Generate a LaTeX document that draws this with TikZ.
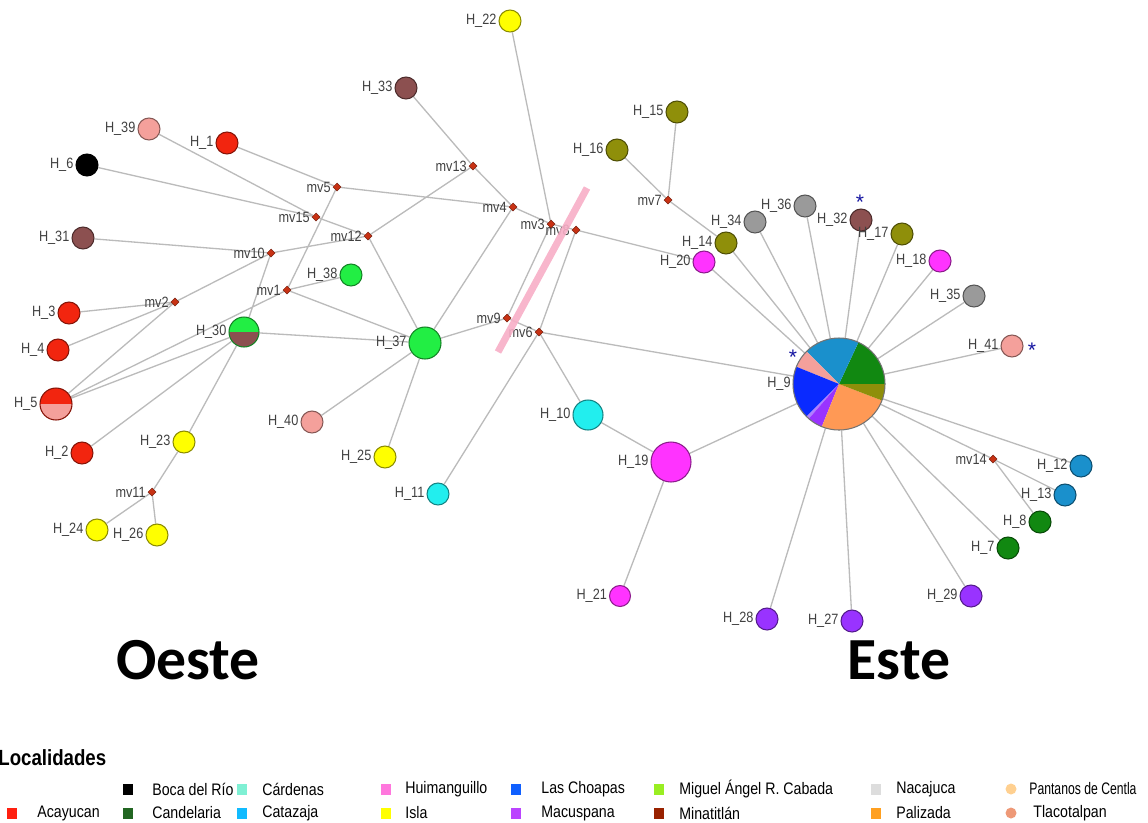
\documentclass[tikz,border=0pt]{standalone}
\usepackage{fontspec}
\setmainfont{Liberation Sans}
\newfontfamily\legfont[FakeStretch=0.85]{Liberation Sans}
\newfontfamily\zonefont{Carlito}
\usetikzlibrary{shapes.geometric,backgrounds}
\definecolor{acay}{HTML}{F2250F}
\definecolor{tlac}{HTML}{F4A09B}
\definecolor{minan}{HTML}{8C5050}
\definecolor{miguel}{HTML}{22EE44}
\definecolor{cande}{HTML}{118811}
\definecolor{carde}{HTML}{22EEEE}
\definecolor{cata}{HTML}{1A90CC}
\definecolor{isla}{HTML}{FFFF00}
\definecolor{huim}{HTML}{FF33FF}
\definecolor{choap}{HTML}{0A2AFF}
\definecolor{macus}{HTML}{9933FF}
\definecolor{lilac}{HTML}{B080FF}
\definecolor{olive}{HTML}{8F8F0A}
\definecolor{nacaj}{HTML}{9A9A9A}
\definecolor{paliz}{HTML}{FF9955}
\definecolor{mvred}{HTML}{C83214}
\definecolor{edgegray}{HTML}{BBBBBB}
\definecolor{astblue}{HTML}{1414A0}
\definecolor{barpink}{HTML}{F7AEC6}
% legend colours
\definecolor{lcarde}{HTML}{7FF0D4}
\definecolor{lhuim}{HTML}{FF77DD}
\definecolor{lchoap}{HTML}{1060FF}
\definecolor{lmiguel}{HTML}{99EE22}
\definecolor{lnacaj}{HTML}{DDDDDD}
\definecolor{lpant}{HTML}{FFD090}
\definecolor{lacay}{HTML}{FF2010}
\definecolor{lcande}{HTML}{226622}
\definecolor{lcata}{HTML}{11BBFF}
\definecolor{lmacus}{HTML}{BB44FF}
\definecolor{lmina}{HTML}{992200}
\definecolor{lpaliz}{HTML}{FFA020}
\definecolor{ltlac}{HTML}{EE9977}
\tikzset{
  hap/.style={circle,draw=#1!55!black,fill=#1,line width=0.6pt,minimum size=0.44cm,inner sep=0pt},
  mv/.style={diamond,draw=mvred!60!black,fill=mvred,line width=0.3pt,minimum size=0.16cm,inner sep=0pt},
  lbl/.style={font=\legfont\fontsize{8.5}{9}\selectfont,text=black!75,inner sep=1pt},
  edge/.style={draw=edgegray,line width=0.75pt},
  ast/.style={font=\fontsize{12}{12}\selectfont,text=astblue,inner sep=0pt},
  zone/.style={font=\zonefont\bfseries\fontsize{34}{34}\selectfont},
  legtext/.style={font=\legfont\fontsize{9.5}{10}\selectfont,anchor=west,inner sep=0pt},
  legbox/.style={fill=#1,minimum width=0.2cm,minimum height=0.22cm,inner sep=0pt},
  legdot/.style={circle,fill=#1,minimum size=0.22cm,inner sep=0pt}
}

\begin{document}
\begin{tikzpicture}[x=0.02cm,y=-0.02cm]
  \useasboundingbox (0,0) rectangle (1148,822);
  % haplotypes, west
  \node[hap=isla,label={[lbl]left:H\_22}] (H22) at (510,21) {};
  \node[hap=minan,label={[lbl]left:H\_33}] (H33) at (406,88) {};
  \node[hap=tlac,label={[lbl]left:H\_39}] (H39) at (149,129) {};
  \node[hap=acay,label={[lbl]left:H\_1}] (H1) at (227,143) {};
  \node[hap=black,label={[lbl]left:H\_6}] (H6) at (87,165) {};
  \node[hap=minan,label={[lbl]left:H\_31}] (H31) at (83,238) {};
  \node[hap=acay,label={[lbl]left:H\_3}] (H3) at (69,313) {};
  \node[hap=acay,label={[lbl]left:H\_4}] (H4) at (58,350) {};
  \node[hap=acay,minimum size=0.64cm,label={[lbl]left:H\_5},
    path picture={\fill[tlac] (path picture bounding box.west) rectangle (path picture bounding box.south east);}] (H5) at (56,404) {};
  \node[hap=acay,label={[lbl]left:H\_2}] (H2) at (82,453) {};
  \node[hap=miguel,minimum size=0.6cm,label={[lbl]left:H\_30},
    path picture={\fill[minan] (path picture bounding box.west) rectangle (path picture bounding box.south east);}] (H30) at (244,332) {};
  \node[hap=miguel,label={[lbl]left:H\_38}] (H38) at (351,275) {};
  \node[hap=miguel,minimum size=0.64cm,label={[lbl]left:H\_37}] (H37) at (425,343) {};
  \node[hap=tlac,label={[lbl]left:H\_40}] (H40) at (312,422) {};
  \node[hap=isla,label={[lbl]left:H\_25}] (H25) at (385,457) {};
  \node[hap=isla,label={[lbl]left:H\_23}] (H23) at (184,442) {};
  \node[hap=isla,label={[lbl]left:H\_24}] (H24) at (97,530) {};
  \node[hap=isla,label={[lbl]left:H\_26}] (H26) at (157,535) {};
  \node[hap=carde,label={[lbl]left:H\_11}] (H11) at (438,494) {};
  \node[hap=carde,minimum size=0.6cm,label={[lbl]left:H\_10}] (H10) at (588,415) {};
  \node[hap=huim,minimum size=0.8cm,label={[lbl]left:H\_19}] (H19) at (671,462) {};
  \node[hap=huim,minimum size=0.42cm,label={[lbl]left:H\_21}] (H21) at (620,596) {};
  % haplotypes, east
  \node[hap=olive,label={[lbl]left:H\_16}] (H16) at (617,150) {};
  \node[hap=olive,label={[lbl]left:H\_15}] (H15) at (677,112) {};
  \node[hap=olive,label={[lbl]left:H\_14}] (H14) at (726,243) {};
  \node[hap=huim,label={[lbl]left:H\_20}] (H20) at (704,262) {};
  \node[hap=nacaj,label={[lbl]left:H\_34}] (H34) at (755,222) {};
  \node[hap=nacaj,label={[lbl]left:H\_36}] (H36) at (805,206) {};
  \node[hap=minan,label={[lbl]left:H\_32}] (H32) at (861,220) {};
  \node[hap=olive,label={[lbl]left:H\_17}] (H17) at (902,234) {};
  \node[hap=huim,label={[lbl]left:H\_18}] (H18) at (940,261) {};
  \node[hap=nacaj,label={[lbl]left:H\_35}] (H35) at (974,296) {};
  \node[hap=tlac,label={[lbl]left:H\_41}] (H41) at (1012,346) {};
  \node[circle,minimum size=1.84cm,inner sep=0pt,label={[lbl]left:H\_9}] (H9) at (839,384) {};
  \node[hap=cata,label={[lbl]left:H\_12}] (H12) at (1081,466) {};
  \node[hap=cata,label={[lbl]left:H\_13}] (H13) at (1065,495) {};
  \node[hap=cande,label={[lbl]left:H\_8}] (H8) at (1040,522) {};
  \node[hap=cande,label={[lbl]left:H\_7}] (H7) at (1008,548) {};
  \node[hap=macus,label={[lbl]left:H\_29}] (H29) at (971,596) {};
  \node[hap=macus,label={[lbl]left:H\_28}] (H28) at (767,619) {};
  \node[hap=macus,label={[lbl]left:H\_27}] (H27) at (852,621) {};
  % median vectors
  \node[mv,label={[lbl]left:mv5}] (mv5) at (337,187) {};
  \node[mv,label={[lbl]left:mv15}] (mv15) at (316,217) {};
  \node[mv,label={[lbl]left:mv12}] (mv12) at (368,236) {};
  \node[mv,label={[lbl]left:mv13}] (mv13) at (473,166) {};
  \node[mv,label={[lbl]left:mv4}] (mv4) at (513,207) {};
  \node[mv,label={[lbl]left:mv8}] (mv8) at (576,230) {};
  \node[mv,label={[lbl]left:mv3}] (mv3) at (551,224) {};
  \node[mv,label={[lbl]left:mv10}] (mv10) at (271,253) {};
  \node[mv,label={[lbl]left:mv1}] (mv1) at (287,290) {};
  \node[mv,label={[lbl]left:mv2}] (mv2) at (175,302) {};
  \node[mv,label={[lbl]left:mv9}] (mv9) at (507,318) {};
  \node[mv,label={[lbl]left:mv6}] (mv6) at (539,332) {};
  \node[mv,label={[lbl]left:mv7}] (mv7) at (668,200) {};
  \node[mv,label={[lbl]left:mv11}] (mv11) at (152,492) {};
  \node[mv,label={[lbl]left:mv14}] (mv14) at (993,459) {};
  \begin{scope}[on background layer]
    \draw[edge] (H22)--(mv3) (H33)--(mv13) (mv13)--(mv4) (mv13)--(mv12)
      (mv5)--(mv4) (mv4)--(mv3) (mv4)--(H37) (H1)--(mv5) (mv5)--(mv1)
      (H39)--(mv15) (H6)--(mv15) (mv15)--(mv12) (H31)--(mv10) (mv10)--(mv12)
      (mv10)--(H30) (mv10)--(mv2) (H4)--(mv2) (H3)--(mv2) (H5)--(mv2)
      (H5)--(mv1) (H5)--(H30) (mv1)--(H38) (mv1)--(H37) (mv12)--(H37)
      (H30)--(H37) (H2)--(H30) (H23)--(H30) (H23)--(mv11) (mv11)--(H24)
      (mv11)--(H26) (H37)--(H40) (H37)--(H25) (H37)--(mv9) (mv9)--(mv3)
      (mv9)--(mv6) (mv6)--(H11) (mv6)--(H10) (mv6)--(mv8) (mv8)--(mv3)
      (mv8)--(H20) (mv6)--(H9) (H10)--(H19) (H19)--(H21) (H19)--(H9);
    \draw[edge] (mv7)--(H16) (mv7)--(H15) (mv7)--(H14) (H14)--(H9) (H20)--(H9)
      (H34)--(H9) (H36)--(H9) (H32)--(H9) (H17)--(H9) (H18)--(H9) (H35)--(H9)
      (H41)--(H9) (H12)--(H9) (mv14)--(H9) (mv14)--(H13) (mv14)--(H8)
      (H7)--(H9) (H29)--(H9) (H27)--(H9) (H28)--(H9);
  \end{scope}
  % shared haplotype
  \foreach \a/\b/\c in {0/65/cande,65/135/cata,135/158/tlac,158/225/choap,
      225/229/lilac,229/248/macus,248/339/paliz,339/360/olive}
    \fill[\c] (H9.center) -- ++(-\a:46) arc[start angle=-\a,end angle=-\b,radius=46] -- cycle;
  \draw[black!55,line width=0.6pt] (H9.center) circle[radius=46];
  \draw[barpink,line width=4pt,opacity=0.9] (587,188) -- (498,352);
  \node[ast] (a32) at (860,202) {*};
  \node[ast] (a41) at (1032,350) {*};
  \node[ast] (a9) at (793,357) {*};
  \node[zone] (west) at (188,660) {Oeste};
  \node[zone] (east) at (899,660) {Este};
  % legend
  \node[anchor=west,inner sep=0pt,font=\legfont\bfseries\fontsize{12.5}{13}\selectfont] (legtitle) at (-2,758) {Localidades};
  \node[legbox=black] (l1) at (128,789) {};
  \node[legtext] at (152,789) {Boca del Río};
  \node[legbox=lcarde] (l2) at (242,789) {};
  \node[legtext] at (262,789) {Cárdenas};
  \node[legbox=lhuim] (l3) at (386,789) {};
  \node[legtext] at (405,789) {Huimanguillo};
  \node[legbox=lchoap] (l4) at (516,789) {};
  \node[legtext] at (541,789) {Las Choapas};
  \node[legbox=lmiguel] (l5) at (659,789) {};
  \node[legtext] at (679,789) {Miguel Ángel R. Cabada};
  \node[legbox=lnacaj] (l6) at (876,789) {};
  \node[legtext] at (896,789) {Nacajuca};
  \node[legdot=lpant] (l7) at (1011,789) {};
  \node[legtext] at (1029,789) {\scalebox{0.86}[1]{Pantanos de Centla}};
  \node[legbox=lacay] (l8) at (12,813) {};
  \node[legtext] at (37,813) {Acayucan};
  \node[legbox=lcande] (l9) at (128,813) {};
  \node[legtext] at (152,813) {Candelaria};
  \node[legbox=lcata] (l10) at (242,813) {};
  \node[legtext] at (262,813) {Catazaja};
  \node[legbox=isla] (l11) at (386,813) {};
  \node[legtext] at (405,813) {Isla};
  \node[legbox=lmacus] (l12) at (516,813) {};
  \node[legtext] at (541,813) {Macuspana};
  \node[legbox=lmina] (l13) at (659,813) {};
  \node[legtext] at (679,813) {Minatitlán};
  \node[legbox=lpaliz] (l14) at (876,813) {};
  \node[legtext] at (896,813) {Palizada};
  \node[legdot=ltlac] (l15) at (1011,813) {};
  \node[legtext] at (1033,813) {Tlacotalpan};
\end{tikzpicture}
\end{document}
